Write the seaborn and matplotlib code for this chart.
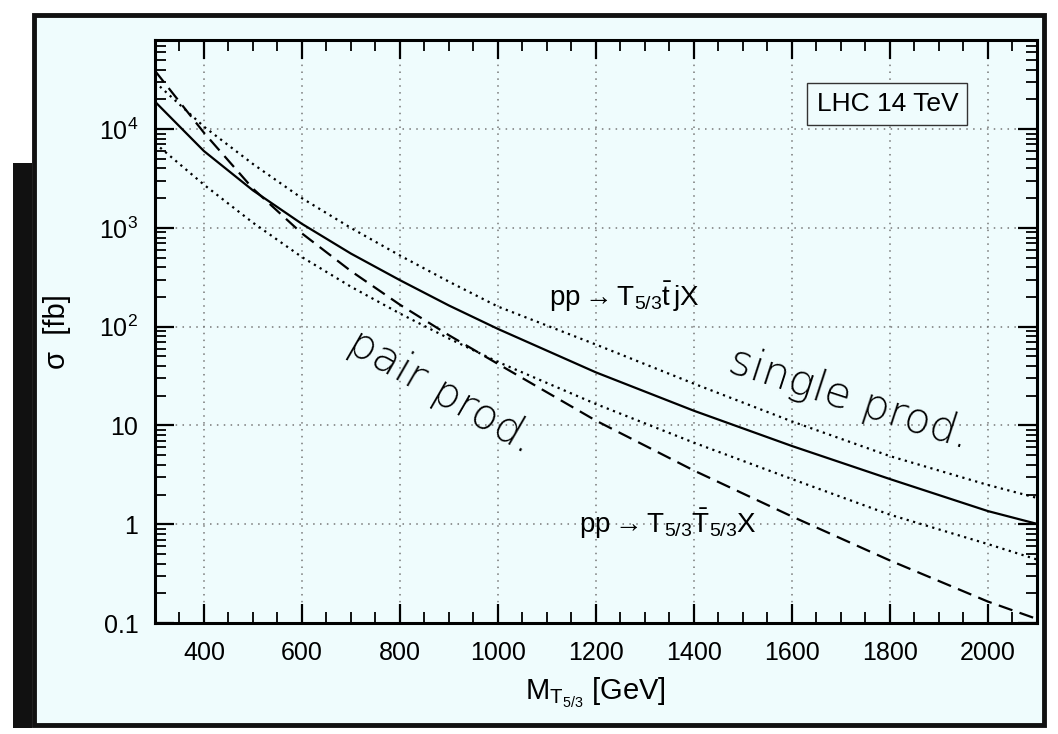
import numpy as np
import pandas as pd
import matplotlib
matplotlib.use("Agg")
import matplotlib.pyplot as plt
import seaborn as sns
from matplotlib.patches import Rectangle
from matplotlib.ticker import MultipleLocator, LogLocator, NullFormatter

# ---------------- data ----------------
mass = [300, 400, 500, 600, 700, 800, 900, 1000, 1200, 1400, 1600, 1800, 2000, 2100]
single_central = [1.9e4, 6.0e3, 2.4e3, 1.1e3, 550, 296, 164, 95, 34.5, 14.1, 6.2, 2.87, 1.36, 1.01]
single_upper = [3.0e4, 1.06e4, 4.44e3, 2.0e3, 1.0e3, 526, 286, 160, 66, 26.5, 11, 4.9, 2.5, 1.85]
single_lower = [7.2e3, 2.74e3, 1.13e3, 507, 254, 136, 76, 44, 16.5, 6.7, 2.87, 1.25, 0.63, 0.44]
pair = [3.9e4, 9.2e3, 2.5e3, 880, 366, 167, 82, 42, 11.2, 3.5, 1.2, 0.43, 0.165, 0.11]

xticks = [400, 600, 800, 1000, 1200, 1400, 1600, 1800, 2000]
yticks = [0.1, 1, 10, 100, 1000, 10000]
ytick_labels = ["0.1", "1", "10", r"10$^2$", r"10$^3$", r"10$^4$"]

series_names = ["single", "single_up", "single_lo", "pair"]
series_values = [single_central, single_upper, single_lower, pair]

df = pd.concat(
    [pd.DataFrame({"mass": mass, "sigma": v, "series": n}) for n, v in zip(series_names, series_values)],
    ignore_index=True,
)

# ---------------- style ----------------
sns.set_theme(style="ticks")
plt.rcParams["font.family"] = ["Liberation Sans", "DejaVu Sans"]
plt.rcParams["mathtext.fontset"] = "custom"
plt.rcParams["mathtext.rm"] = "Liberation Sans"
plt.rcParams["mathtext.it"] = "Liberation Sans:italic"
plt.rcParams["mathtext.bf"] = "Liberation Sans:bold"
for key in ["text.color", "axes.labelcolor", "xtick.color", "ytick.color", "axes.edgecolor"]:
    plt.rcParams[key] = "black"

bg = "#effcfd"
fig = plt.figure(figsize=(10.58, 7.34), dpi=100, facecolor="white")

# photo-like frame
fig.patches.append(Rectangle((0.032, 0.012), 0.955, 0.968, transform=fig.transFigure,
                             facecolor=bg, edgecolor="#111111", linewidth=3.5, zorder=-5))
fig.patches.append(Rectangle((0.012, 0.008), 0.018, 0.77, transform=fig.transFigure,
                             facecolor="#111111", edgecolor="none", zorder=-5))

ax = fig.add_axes([0.1465, 0.1512, 0.8335, 0.7943])
ax.set_facecolor(bg)

sns.lineplot(
    data=df, x="mass", y="sigma", style="series",
    dashes={"single": "", "single_up": (1, 2.0), "single_lo": (1, 2.0), "pair": (6.5, 3.4)},
    color="black", linewidth=1.6, legend=False, ax=ax, sort=False, estimator=None,
)

ax.set_yscale("log")
ax.set_xlim(300, 2100)
ax.set_ylim(0.1, 8e4)

ax.set_xticks(xticks)
ax.xaxis.set_minor_locator(MultipleLocator(50))
ax.set_yticks(yticks)
ax.set_yticklabels(ytick_labels)
ax.yaxis.set_minor_locator(LogLocator(base=10, subs=np.arange(2, 10)))
ax.yaxis.set_minor_formatter(NullFormatter())

ax.tick_params(which="both", direction="in", top=True, right=True, color="black")
ax.tick_params(which="major", length=14, width=1.6, labelsize=18, pad=12)
ax.tick_params(which="minor", length=8, width=1.3)
ax.tick_params(axis="x", which="major", pad=13)
for s in ax.spines.values():
    s.set_linewidth(2.2)
    s.set_color("black")

ax.grid(True, which="major", linestyle=(0, (1, 3.5)), color="#777777", linewidth=1.1)

ax.set_xlabel(r"M$_{\mathrm{T}_{5/3}}$ [GeV]", fontsize=21, labelpad=8)
ax.set_ylabel("σ  [fb]", fontsize=21, labelpad=20)

# annotations
ax.text(1795, 1.8e4, "LHC 14 TeV", fontsize=19, ha="center", va="center",
        bbox=dict(boxstyle="square,pad=0.35", facecolor=bg, edgecolor="#333333", linewidth=1))
ax.text(1105, 200, r"pp$\rightarrow$T$_{5/3}\bar{\mathrm{t}}\,\mathrm{j}$X",
        fontsize=20, ha="left", va="center")
ax.text(1165, 1.0, r"pp$\rightarrow$T$_{5/3}\bar{\mathrm{T}}_{5/3}$X",
        fontsize=20, ha="left", va="center")
ax.text(885, 22, "pair prod.", fontsize=31, rotation=-30, ha="center", va="center",
        fontfamily="DejaVu Sans", fontweight="light", rotation_mode="anchor")
ax.text(1718, 19, "single prod.", fontsize=31, rotation=-18, ha="center", va="center",
        fontfamily="DejaVu Sans", fontweight="light", rotation_mode="anchor")

fig.savefig("out.png", dpi=100, facecolor=fig.get_facecolor())
